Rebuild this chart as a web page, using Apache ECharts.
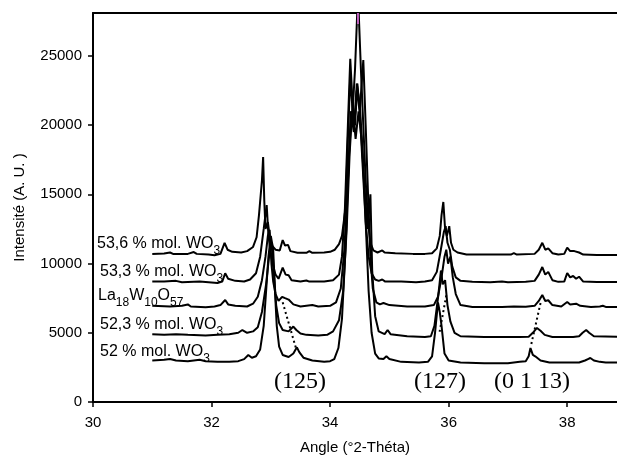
<!DOCTYPE html>
<html><head><meta charset="utf-8">
<script src="https://cdn.jsdelivr.net/npm/echarts@6/dist/echarts.min.js"></script>
<style>html,body{margin:0;padding:0;background:#fff}#c{width:617px;height:461px}</style>
</head><body><div id="c"></div>
<script>
// ---- data ----
const xTicks = [30, 32, 34, 36, 38];
const yTicks = [0, 5000, 10000, 15000, 20000, 25000];
const xAxisTitle = 'Angle (°2-Théta)';
const yAxisTitle = 'Intensité (A. U. )';

const t536 = [[31.0,10700],[31.2,10720],[31.3,10800],[31.35,10700],[31.6,10700],[31.7,10830],[31.75,10700],[31.95,10650],[32.05,10600],[32.15,10700],[32.22,11500],[32.27,11000],[32.35,10850],[32.5,10800],[32.6,10900],[32.7,11200],[32.76,11900],[32.8,13500],[32.85,16000],[32.87,17700],[32.89,14500],[32.91,12500],[32.95,13000],[32.98,12000],[33.02,11300],[33.08,11000],[33.15,10950],[33.2,11700],[33.24,11300],[33.29,11350],[33.33,10900],[33.45,10780],[33.6,10780],[33.65,10900],[33.7,10780],[33.9,10800],[34.0,10850],[34.08,11000],[34.15,11400],[34.2,12000],[34.26,14000],[34.3,19000],[34.34,23500],[34.38,21000],[34.42,24000],[34.47,29500],[34.52,24000],[34.56,20000],[34.6,16000],[34.64,13000],[34.68,11500],[34.73,10950],[34.8,10800],[34.88,10950],[34.92,10800],[35.1,10750],[35.4,10700],[35.6,10700],[35.72,10750],[35.8,11100],[35.85,12000],[35.88,13500],[35.91,14450],[35.94,12500],[35.97,12000],[36.01,12700],[36.04,11500],[36.08,11000],[36.15,10800],[36.3,10650],[36.8,10650],[37.05,10650],[37.1,10750],[37.15,10650],[37.45,10700],[37.52,11000],[37.58,11500],[37.63,11000],[37.68,11100],[37.75,10750],[37.85,10650],[37.95,10700],[38.0,11150],[38.05,10900],[38.12,10900],[38.2,10800],[38.27,10650],[38.5,10620],[38.9,10620]];

const t533 = [[31.0,8700],[31.2,8700],[31.4,8750],[31.5,8650],[31.8,8700],[31.95,8650],[32.1,8600],[32.18,8700],[32.23,9300],[32.28,8900],[32.4,8750],[32.55,8700],[32.65,8850],[32.75,9300],[32.82,10500],[32.88,12500],[32.93,14230],[32.96,12000],[32.99,11000],[33.03,10000],[33.08,9200],[33.13,8900],[33.2,9700],[33.25,9200],[33.3,9150],[33.35,8800],[33.5,8700],[33.6,8780],[33.65,8700],[33.9,8700],[34.05,8800],[34.15,9200],[34.2,10500],[34.25,14000],[34.3,20000],[34.34,24800],[34.38,21500],[34.42,20000],[34.46,23000],[34.5,21000],[34.55,17000],[34.6,13000],[34.65,10500],[34.7,9300],[34.76,8850],[34.82,8750],[34.88,8850],[34.93,8700],[35.2,8700],[35.45,8650],[35.6,8700],[35.72,8800],[35.8,9400],[35.86,10800],[35.92,12300],[35.95,12700],[35.98,11500],[36.02,11000],[36.06,9800],[36.12,9000],[36.2,8750],[36.4,8680],[36.7,8650],[36.9,8700],[37.0,8650],[37.3,8680],[37.45,8750],[37.52,9200],[37.58,9750],[37.63,9200],[37.68,9400],[37.75,8800],[37.85,8680],[37.95,8700],[38.0,9320],[38.05,9000],[38.1,9100],[38.15,8900],[38.2,9050],[38.27,8700],[38.5,8670],[38.9,8670]];

const tLa = [[31.0,6950],[31.3,6900],[31.5,6950],[31.6,7050],[31.65,6900],[31.9,6850],[32.05,6900],[32.15,7000],[32.23,7370],[32.28,7050],[32.4,6950],[32.6,6900],[32.7,7100],[32.78,7600],[32.85,8800],[32.91,10500],[32.95,12000],[32.98,12430],[33.01,10000],[33.04,8700],[33.08,7800],[33.13,7300],[33.19,7600],[33.24,7500],[33.3,7400],[33.38,7050],[33.5,6900],[33.6,6950],[33.7,7000],[33.8,6900],[34.0,6950],[34.1,7200],[34.18,8200],[34.24,11000],[34.3,16000],[34.35,21000],[34.4,19500],[34.45,22500],[34.5,21000],[34.56,24700],[34.6,20000],[34.64,15000],[34.68,10500],[34.72,8200],[34.78,7200],[34.84,7050],[34.9,7150],[35.0,7000],[35.3,6900],[35.6,6900],[35.75,7000],[35.82,7600],[35.88,9000],[35.93,10500],[35.96,11000],[35.99,10000],[36.03,10500],[36.07,9000],[36.12,7800],[36.2,7000],[36.4,6870],[36.9,6870],[37.1,6900],[37.3,6880],[37.45,6950],[37.52,7300],[37.58,7730],[37.63,7300],[37.68,7350],[37.75,7000],[37.9,6900],[38.0,7225],[38.05,7050],[38.15,7100],[38.22,6950],[38.4,6870],[38.55,6900],[38.6,6950],[38.65,6870],[38.9,6860]];

const t523 = [[31.0,4900],[31.2,4850],[31.4,4900],[31.6,4850],[31.9,4800],[32.1,4850],[32.3,4900],[32.45,5000],[32.52,5200],[32.6,5000],[32.7,5100],[32.78,5400],[32.85,6500],[32.92,8500],[32.97,10500],[33.02,11500],[33.05,9500],[33.09,7000],[33.14,5700],[33.2,5200],[33.3,5100],[33.38,5450],[33.43,5200],[33.5,4950],[33.6,4850],[33.8,4800],[33.95,4850],[34.05,5100],[34.15,5900],[34.22,8000],[34.28,12500],[34.33,18000],[34.38,21500],[34.43,19000],[34.48,21000],[34.53,19000],[34.58,15500],[34.63,12500],[34.68,15000],[34.71,9500],[34.76,6200],[34.82,5100],[34.92,4900],[34.97,5200],[35.02,4900],[35.3,4750],[35.6,4700],[35.7,4750],[35.76,5500],[35.82,7500],[35.87,9500],[35.9,8500],[35.94,8800],[35.98,7000],[36.03,5800],[36.1,5000],[36.2,4750],[36.6,4700],[37.2,4700],[37.35,4720],[37.42,5000],[37.49,5350],[37.55,5150],[37.62,4850],[37.75,4700],[38.1,4700],[38.2,4750],[38.26,5000],[38.32,5200],[38.37,5000],[38.45,4750],[38.9,4700]];

const t52 = [[31.0,3000],[31.2,3050],[31.3,3100],[31.4,3000],[31.6,2950],[31.8,3050],[31.9,2950],[32.1,2900],[32.3,2900],[32.45,2950],[32.55,3100],[32.62,3400],[32.68,3200],[32.75,3300],[32.82,3800],[32.88,5500],[32.92,8000],[32.96,10500],[33.0,12000],[33.04,11000],[33.07,8000],[33.1,5500],[33.14,4000],[33.2,3400],[33.3,3250],[33.38,3500],[33.44,3950],[33.48,3600],[33.55,3200],[33.7,3000],[33.9,2900],[34.0,2950],[34.07,3100],[34.14,3900],[34.2,6000],[34.26,11000],[34.31,17000],[34.36,21000],[34.41,20000],[34.45,23000],[34.5,21500],[34.55,18000],[34.6,13000],[34.65,8000],[34.7,5000],[34.76,3500],[34.82,3150],[34.9,3100],[34.95,3300],[35.0,3100],[35.2,2900],[35.5,2850],[35.65,2900],[35.72,3300],[35.77,5000],[35.82,7200],[35.85,6500],[35.88,5500],[35.93,3500],[36.0,3000],[36.2,2850],[36.6,2800],[37.0,2800],[37.2,2900],[37.3,2950],[37.35,3300],[37.38,3900],[37.42,3400],[37.46,3300],[37.55,3000],[37.7,2850],[38.2,2850],[38.3,3000],[38.35,3100],[38.39,3180],[38.45,3000],[38.55,2900],[38.65,2850],[38.9,2850]];

const shift125 = [[33.2,7200],[33.43,3800]];
const shift127 = [[35.96,7700],[35.84,4900]];
const shift0113 = [[37.55,7150],[37.39,4100]];
const apex = [[34.47,28100],[34.47,27300]];

const traceLabels = [
  '{n|53,6 % mol. WO}{s|3}',
  '{n|53,3 % mol. WO}{s|3}',
  '{n|La}{s|18}{n|W}{s|10}{n|O}{s|57}',
  '{n|52,3 % mol. WO}{s|3}',
  '{n|52 % mol. WO}{s|3}'
];
const peakLabels = ['(125)', '(127)', '(0 1 13)'];

// ---- chart ----
const chart = echarts.init(document.getElementById('c'), null, {renderer: 'canvas'});
const SANS = '"Liberation Sans", Arial, sans-serif';
const SERIF = '"Liberation Serif", "Times New Roman", serif';
const traces = [t536, t533, tLa, t523, t52];

const labelPos = [[97,244],[100,272],[98,296],[100,325],[100,352]];
const peakPos = [[300,382],[440,382],[532,382]];

const rich = {
  n: {fontSize: 16, fontFamily: SANS, color: '#000'},
  s: {fontSize: 12, fontFamily: SANS, color: '#000', padding: [14, 0, 0, 0]}
};

const graphics = [];
traceLabels.forEach((t, i) => {
  graphics.push({type: 'text', x: labelPos[i][0], y: labelPos[i][1], z: 100,
    style: {text: t, rich: rich, align: 'left', verticalAlign: 'middle'}});
});
peakLabels.forEach((t, i) => {
  graphics.push({type: 'text', x: peakPos[i][0], y: peakPos[i][1], z: 100,
    style: {text: t, font: '24px ' + SERIF, fill: '#000', align: 'center', verticalAlign: 'middle'}});
});

const series = traces.map(d => ({
  type: 'line', data: d, symbol: 'none', clip: true,
  lineStyle: {color: '#000', width: 2}, z: 3
}));
[shift125, shift127, shift0113].forEach(d => series.push({
  type: 'line', data: d, symbol: 'none',
  lineStyle: {color: '#000', width: 2, type: [2, 3]}, z: 4
}));
series.push({type: 'line', data: apex, symbol: 'none', lineStyle: {color: '#c060c0', width: 2}, z: 5});

chart.setOption({
  animation: false,
  backgroundColor: '#fff',
  grid: {left: 93, right: 0, top: 13, bottom: 59, containLabel: false},
  xAxis: [{
    type: 'value', min: 30, max: 38.84, interval: 2,
    name: xAxisTitle, nameLocation: 'middle', nameGap: 38,
    nameTextStyle: {fontSize: 15, fontFamily: SANS, color: '#000'},
    axisLine: {show: true, lineStyle: {color: '#000', width: 2}},
    axisTick: {show: true, length: 5, lineStyle: {color: '#000', width: 1.5}, customValues: xTicks},
    axisLabel: {fontSize: 15, fontFamily: SANS, color: '#000', margin: 13, customValues: xTicks,
      formatter: v => String(v)},
    splitLine: {show: false}
  }, {
    type: 'value', position: 'top', min: 30, max: 38.84,
    axisLine: {show: true, lineStyle: {color: '#000', width: 2}},
    axisTick: {show: false}, axisLabel: {show: false}, splitLine: {show: false}
  }],
  yAxis: {
    type: 'value', min: 0, max: 28100, interval: 5000,
    name: yAxisTitle, nameLocation: 'middle', nameGap: 66,
    nameTextStyle: {fontSize: 15, fontFamily: SANS, color: '#000'},
    axisLine: {show: true, lineStyle: {color: '#000', width: 2}},
    axisTick: {show: true, length: 5, lineStyle: {color: '#000', width: 1.5}, customValues: yTicks},
    axisLabel: {fontSize: 15, fontFamily: SANS, color: '#000', margin: 11, customValues: yTicks,
      formatter: v => String(v)},
    splitLine: {show: false}
  },
  series: series,
  graphic: graphics
});
</script>
</body></html>
